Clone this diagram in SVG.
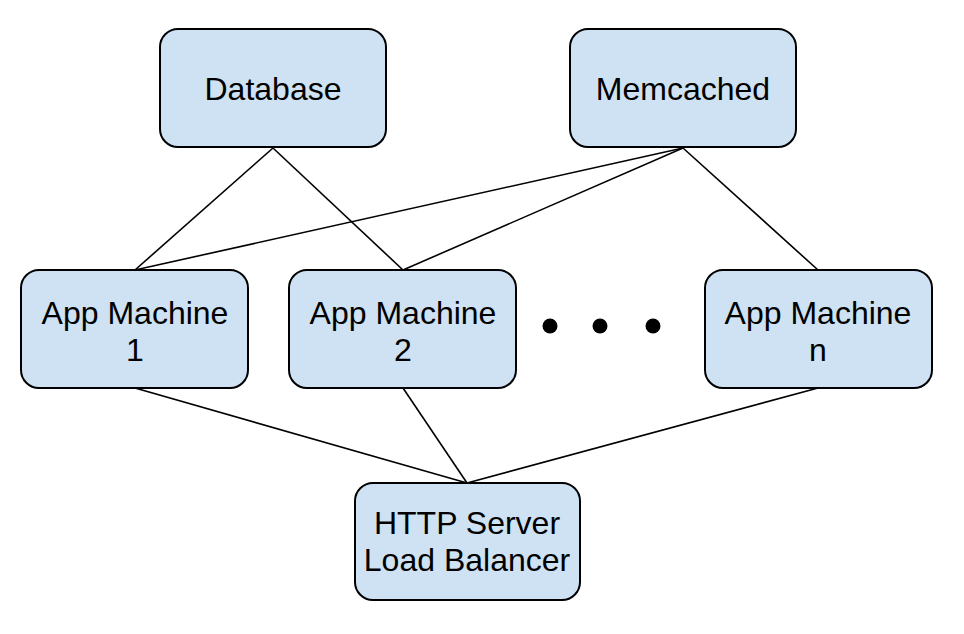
<svg xmlns="http://www.w3.org/2000/svg" width="964" height="634" viewBox="0 0 964 634">
<style>
.box{fill:#cfe2f3;stroke:#000;stroke-width:2}
.t{font-family:"Liberation Sans",Arial,sans-serif;font-size:32px;fill:#000;text-anchor:middle}
.c line{stroke:#000;stroke-width:1.6}
</style>
<rect width="964" height="634" fill="#fff"/>
<g class="c" id="connectors">
<line x1="273" y1="148" x2="135" y2="270"/>
<line x1="273" y1="148" x2="403" y2="270"/>
<line x1="683" y1="148" x2="135" y2="270"/>
<line x1="683" y1="148" x2="403" y2="270"/>
<line x1="683" y1="148" x2="818" y2="270"/>
<line x1="135" y1="388" x2="467" y2="483"/>
<line x1="403" y1="388" x2="467" y2="483"/>
<line x1="818" y1="388" x2="467" y2="483"/>
</g>
<g id="database"><rect class="box" x="160" y="29" width="226" height="118" rx="18"/><text class="t" x="273" y="100">Database</text></g>
<g id="memcached"><rect class="box" x="570" y="29" width="226" height="118" rx="18"/><text class="t" x="683" y="100">Memcached</text></g>
<g id="app1"><rect class="box" x="21" y="270" width="227" height="118" rx="18"/><text class="t" x="135" y="324">App Machine</text><text class="t" x="135" y="361">1</text></g>
<g id="app2"><rect class="box" x="289" y="270" width="227" height="118" rx="18"/><text class="t" x="403" y="324">App Machine</text><text class="t" x="403" y="361">2</text></g>
<g id="appn"><rect class="box" x="705" y="270" width="227" height="118" rx="18"/><text class="t" x="818" y="324">App Machine</text><text class="t" x="818" y="361">n</text></g>
<g id="dots"><circle cx="550" cy="326" r="7.5"/><circle cx="600" cy="326" r="7.5"/><circle cx="653" cy="326" r="7.5"/></g>
<g id="http"><rect class="box" x="355" y="483" width="225" height="117" rx="18"/><text class="t" x="467" y="534">HTTP Server</text><text class="t" x="467" y="571">Load Balancer</text></g>
</svg>
